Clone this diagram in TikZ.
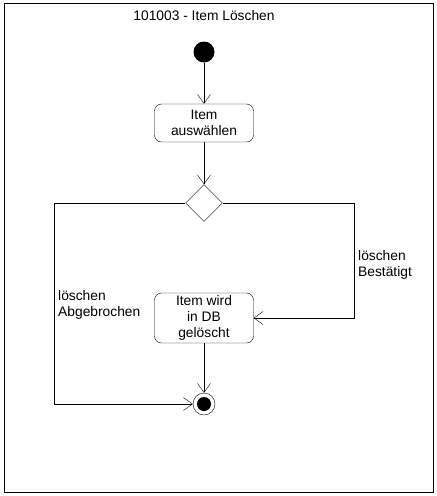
\documentclass[tikz,border=0pt]{standalone}
\usepackage{fontspec}
\setmainfont{Liberation Sans}
\usepackage{tikz}
\usetikzlibrary{arrows.meta,shapes.geometric}

\begin{document}
\begin{tikzpicture}[x=1pt,y=-1pt,font=\fontsize{13.8}{16}\selectfont,
		-{Straight Barb[length=9pt,width=13pt]}]
		\tikzstyle{action} = [rectangle,rounded corners=7pt,draw,minimum width=99pt,align=center,inner sep=1pt]
		\tikzstyle{decision} = [diamond,draw,minimum size=37pt,inner sep=0pt]
		\tikzstyle{lbl} = [align=left,anchor=north west,inner sep=0pt]
		
		\useasboundingbox (0,0) rectangle (437,496);
		\draw[-,thick] (4.5,3.5) rectangle (433,492);
		
		\node (title) at (204,16) {101003 - Item Löschen};
		\node[circle,fill,minimum size=21pt,inner sep=0pt] (start) at (204,52) {};
		\node[action,minimum height=38pt] (select) at (204,123) {Item\\auswählen};
		\node[decision] (dec) at (204,203) {};
		\node[action,minimum height=50pt] (delete) at (204,318) {Item wird\\in DB\\gelöscht};
		\node[circle,draw,minimum size=22pt,inner sep=0pt] (end) at (204,404) {};
		\node[circle,fill,minimum size=14pt,inner sep=0pt] at (end) {};
		\coordinate (rcorner) at (354,203);
		\coordinate (lcorner) at (54,203);
		
		\node[lbl] (ok) at (358,250) {löschen\\Bestätigt};
		\node[lbl] (abort) at (58,290) {löschen\\Abgebrochen};
		
		\path (start) edge (select);
		\path (select) edge (dec);
		\draw (dec.east) -- (rcorner) |- (delete.east);
		\draw (dec.west) -- (lcorner) |- (end.west);
		\path (delete) edge (end);
	\end{tikzpicture}
\end{document}
